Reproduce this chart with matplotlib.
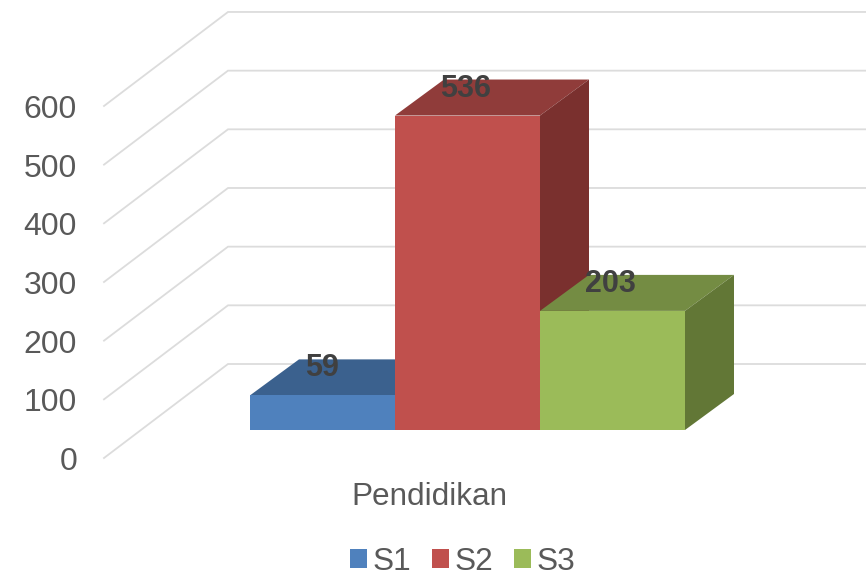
from matplotlib import pyplot as plt
from matplotlib.patches import Patch
from matplotlib.transforms import ScaledTranslation

plt.rcParams['font.family'] = ['Liberation Sans', 'DejaVu Sans']

category = 'Pendidikan'
series = ['S1', 'S2', 'S3']
values = [59, 536, 203]
ticks = [0, 100, 200, 300, 400, 500, 600]

front_colors = ['#4F81BD', '#C0504D', '#9BBB59']
top_colors = ['#3B618E', '#903C3A', '#748C43']
side_colors = ['#315175', '#7A302E', '#627736']

W, H = 866, 572
LEFT = 78              # left edge of the axes, pixels
PX = 0.5867            # pixels per value unit
ZERO = 458             # pixel row of value 0 on the front of the walls
BAR_BASE = (ZERO - 430) / PX
WALL_DX, WALL_DY = 124, 94 / PX
BAR_DX, BAR_DY = 49, 36 / PX
BAR_X = 250
BAR_W = 145

fig = plt.figure(figsize=(W / 100, H / 100), dpi=100)
ax = fig.add_axes([LEFT / W, 0, 1 - LEFT / W, 1])
ax.set_xlim(LEFT, W)
ax.set_ylim((ZERO - H) / PX, ZERO / PX)
for s in ax.spines.values():
    s.set_visible(False)

ax.set_xticks([])
ax.set_yticks(ticks)
ax.tick_params(axis='y', length=0, pad=0.7, labelsize=23, labelcolor='#595959')
for label in ax.get_yticklabels():
    label.set_transform(label.get_transform() + ScaledTranslation(0, -0.5 / 100, fig.dpi_scale_trans))

# walls and floor lines
for t in ticks:
    ax.plot([104, 104 + WALL_DX, W], [t, t + WALL_DY, t + WALL_DY],
            color='#DCDCDC', lw=1.3, zorder=1, solid_joinstyle='miter')

# 3d bars, left to right so each one covers the side of the last
for i, v in enumerate(values):
    x0 = BAR_X + i * BAR_W
    x1 = x0 + BAR_W
    y0 = BAR_BASE
    y1 = BAR_BASE + v
    ax.fill([x0, x1, x1 + BAR_DX, x0 + BAR_DX], [y1, y1, y1 + BAR_DY, y1 + BAR_DY],
            color=top_colors[i], lw=0, zorder=2 + i)
    ax.fill([x1, x1 + BAR_DX, x1 + BAR_DX, x1], [y0, y0 + BAR_DY, y1 + BAR_DY, y1],
            color=side_colors[i], lw=0, zorder=2 + i)
    ax.bar(x0, v, width=BAR_W, bottom=y0, align='edge', color=front_colors[i],
           lw=0, zorder=2 + i)

for i, v in enumerate(values):
    ax.text(BAR_X + i * BAR_W + BAR_W / 2 - 1.5 * (i > 0) - 0.5, BAR_BASE + v + 27 / PX, str(v),
            ha='center', va='center', fontsize=22, fontweight='bold',
            color='#404040', zorder=10)

ax.text(429, (ZERO - 497) / PX, category, ha='center', va='center',
        fontsize=22.7, color='#595959')

handles = [Patch(color=c, lw=0) for c in front_colors]
fig.legend(handles, series, ncols=3, frameon=False, loc='center',
           bbox_to_anchor=(462.5 / W, 1 - 562 / H), fontsize=22.7,
           labelcolor='#595959', handlelength=0.54, handleheight=0.54,
           handletextpad=0.18, columnspacing=0.65, borderpad=0, borderaxespad=0)

fig.savefig('out.png', dpi=100)
